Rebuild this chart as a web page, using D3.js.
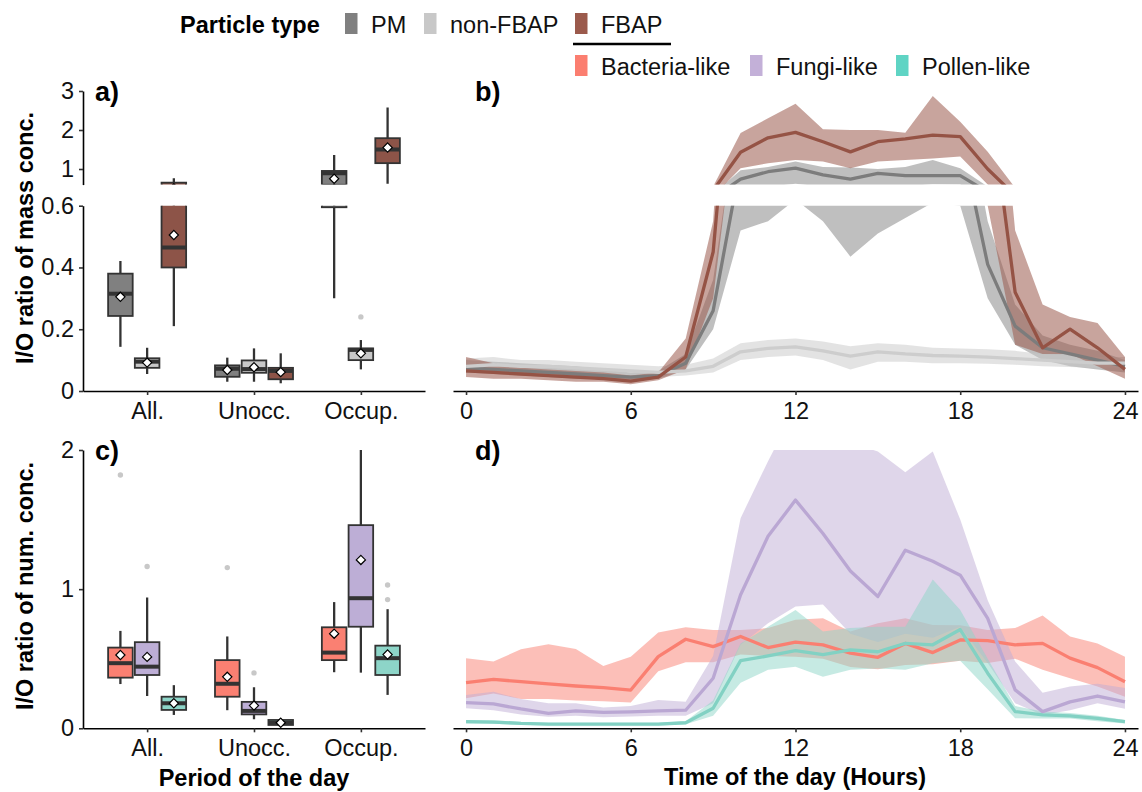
<!DOCTYPE html>
<html>
<head>
<meta charset="utf-8">
<script src="https://cdn.jsdelivr.net/npm/d3@7"></script>
<style>
  body { margin: 0; background: #fff; }
  text { font-family: "Liberation Sans", Arial, sans-serif; }
</style>
</head>
<body>
<svg id="chart" width="1142" height="792"></svg>
<script>
// ---- data ----
const periods = ["All.", "Unocc.", "Occup."];
const massTypes = ["PM", "non-FBAP", "FBAP"];
const bioTypes = ["Bacteria-like", "Fungi-like", "Pollen-like"];
const hours = [0,1,2,3,4,5,6,7,8,9,10,11,12,13,14,15,16,17,18,19,20,21,22,23,24];

// box stats per period: [whisker low, q1, median, q3, whisker high, mean]
const pmBox      = [[0.143,0.243,0.315,0.38,0.421,0.305], [0.03,0.046,0.072,0.083,0.108,0.068], [0.30,0.595,0.89,0.95,1.36,0.75]];
const nonFbapBox = [[0.055,0.075,0.095,0.106,0.14,0.092], [0.03,0.059,0.071,0.099,0.138,0.077], [0.07,0.10,0.133,0.138,0.165,0.122]];
const fbapBox    = [[0.21,0.40,0.465,0.65,0.76,0.505], [0.025,0.038,0.065,0.075,0.122,0.061], [0.62,1.15,1.5,1.79,2.58,1.55]];
const pmOut = [[], [], []];
const nonFbapOut = [[], [], [0.24]];
const fbapOut = [[], [], []];

const bactBox   = [[0.318,0.364,0.468,0.58,0.70,0.527], [0.13,0.227,0.32,0.49,0.66,0.37], [0.403,0.49,0.544,0.726,0.907,0.68]];
const fungiBox  = [[0.232,0.383,0.443,0.619,0.94,0.513], [0.065,0.10,0.125,0.19,0.295,0.163], [0.40,0.73,0.935,1.46,2.0,1.21]];
const pollenBox = [[0.096,0.132,0.18,0.227,0.31,0.18], [0.015,0.024,0.04,0.06,0.07,0.04], [0.24,0.383,0.504,0.594,0.856,0.53]];
const bactOut = [[1.82], [1.155], []];
const fungiOut = [[1.163], [0.398], []];
const pollenOut = [[], [], [0.925, 1.03]];

// hourly means and ribbons, mass concentration
const pmMean = [0.075,0.07,0.065,0.06,0.055,0.05,0.045,0.05,0.09,0.26,0.74,0.93,1.02,0.85,0.74,0.89,0.83,0.83,0.83,0.41,0.21,0.14,0.12,0.10,0.08];
const pmLo   = [0.06,0.055,0.05,0.045,0.04,0.04,0.035,0.04,0.07,0.2,0.52,0.55,0.62,0.55,0.435,0.51,0.56,0.61,0.6,0.3,0.15,0.1,0.08,0.07,0.06];
const pmHi   = [0.1,0.095,0.09,0.085,0.08,0.07,0.06,0.065,0.12,0.36,0.97,1.05,1.19,1.05,1.04,1.0,1.05,1.23,1.02,0.55,0.28,0.18,0.15,0.13,0.1];
const nonFbapMean = [0.08,0.085,0.08,0.08,0.075,0.07,0.065,0.06,0.065,0.08,0.127,0.138,0.143,0.13,0.113,0.127,0.12,0.115,0.113,0.11,0.105,0.1,0.095,0.09,0.09];
const nonFbapLo   = [0.06,0.065,0.062,0.06,0.056,0.052,0.048,0.045,0.05,0.06,0.1,0.11,0.115,0.1,0.07,0.095,0.095,0.09,0.09,0.088,0.085,0.08,0.078,0.075,0.075];
const nonFbapHi   = [0.105,0.11,0.1,0.1,0.095,0.09,0.085,0.08,0.085,0.105,0.155,0.165,0.17,0.16,0.145,0.155,0.15,0.14,0.138,0.135,0.13,0.12,0.115,0.11,0.11];
const fbapMean = [0.065,0.06,0.055,0.05,0.045,0.04,0.032,0.045,0.11,0.45,1.43,1.8,1.94,1.70,1.44,1.70,1.77,1.87,1.83,1.0,0.32,0.14,0.20,0.14,0.07];
const fbapLo   = [0.045,0.04,0.04,0.035,0.03,0.03,0.022,0.035,0.07,0.3,1.02,1.15,1.23,1.19,1.02,1.19,1.23,1.27,1.32,0.6,0.15,0.12,0.12,0.08,0.04];
const fbapHi   = [0.11,0.09,0.075,0.07,0.065,0.06,0.05,0.06,0.17,0.55,1.92,2.3,2.67,2.02,2.0,2.0,1.93,2.87,2.21,1.44,0.52,0.28,0.24,0.22,0.11];

// hourly means and ribbons, number concentration
const bactMean = [0.328,0.352,0.335,0.319,0.304,0.292,0.275,0.515,0.64,0.587,0.66,0.58,0.62,0.60,0.54,0.51,0.61,0.544,0.635,0.63,0.60,0.61,0.504,0.436,0.335];
const bactLo   = [0.216,0.25,0.21,0.21,0.2,0.195,0.185,0.41,0.475,0.475,0.53,0.52,0.515,0.5,0.44,0.425,0.455,0.46,0.486,0.47,0.5,0.42,0.36,0.3,0.227];
const bactHi   = [0.504,0.48,0.568,0.604,0.57,0.448,0.515,0.688,0.727,0.707,0.707,0.72,0.78,0.79,0.695,0.755,0.79,0.743,0.74,0.707,0.72,0.81,0.66,0.61,0.515];
const fungiMean = [0.185,0.175,0.139,0.108,0.125,0.115,0.118,0.125,0.13,0.36,0.96,1.38,1.64,1.4,1.13,0.947,1.28,1.2,1.10,0.79,0.276,0.12,0.19,0.232,0.19];
const fungiLo   = [0.144,0.13,0.1,0.083,0.09,0.08,0.085,0.09,0.09,0.18,0.6,0.755,0.875,0.89,0.68,0.62,0.68,0.65,0.73,0.47,0.18,0.096,0.13,0.18,0.14];
const fungiHi   = [0.24,0.263,0.21,0.18,0.18,0.15,0.16,0.204,0.19,0.52,1.51,1.92,2.3,2.2,2.05,1.99,1.84,1.99,1.5,0.92,0.48,0.256,0.3,0.32,0.29];
const pollenMean = [0.048,0.045,0.035,0.03,0.03,0.03,0.03,0.03,0.04,0.144,0.486,0.52,0.558,0.53,0.563,0.55,0.61,0.6,0.71,0.396,0.12,0.096,0.09,0.072,0.048];
const pollenLo   = [0.035,0.032,0.025,0.02,0.02,0.02,0.02,0.02,0.03,0.09,0.328,0.42,0.443,0.37,0.42,0.43,0.42,0.468,0.486,0.28,0.072,0.07,0.07,0.05,0.035];
const pollenHi   = [0.06,0.058,0.045,0.04,0.04,0.04,0.04,0.04,0.05,0.2,0.61,0.73,0.85,0.695,0.72,0.73,0.73,1.07,0.85,0.5,0.16,0.12,0.11,0.09,0.06];

const massTicksLo = [0, 0.2, 0.4, 0.6];
const massTicksHi = [1, 2, 3];
const numTicks = [0, 1, 2];
const hourTicks = [0, 6, 12, 18, 24];

// ---- layout ----
const svg = d3.select("#chart");
const FS = 23.5;
const ink = "#333333";

const xCat = d3.scalePoint().domain(periods).range([83, 425]).padding(0.6);
const step = xCat.step();
const boxW = 0.23 * step;
const dodgeMass = d3.scalePoint().domain(massTypes).range([-0.25 * step, 0.25 * step]);
const dodgeBio = d3.scalePoint().domain(bioTypes).range([-0.25 * step, 0.25 * step]);
const xHour = d3.scaleLinear().domain([-0.475, 24.475]).range([453, 1138]);

const yMassLo = d3.scaleLinear().domain([0, 0.6]).range([391, 205.7]);
const yMassHi = d3.scaleLinear().domain([0.6, 3]).range([184.6, 91]);
const yNum = d3.scaleLinear().domain([0, 2]).range([728.3, 450]);

const defs = svg.append("defs");
function clip(id, y0, y1) {
  defs.append("clipPath").attr("id", id)
    .append("rect").attr("x", 0).attr("y", y0).attr("width", 1142).attr("height", y1 - y0);
}
clip("clipLo", 205.7, 400);
clip("clipHi", 60, 184.6);
clip("clipNum", 450, 740);

const massFill = { "PM": "#808080", "non-FBAP": "#c8c8c8", "FBAP": "#8d5448" };
const bioFill = { "Bacteria-like": "#fa8072", "Fungi-like": "#bdaed6", "Pollen-like": "#8dd5c8" };

function diamond(cx, cy, r) {
  return "M" + cx + "," + (cy - r) + "L" + (cx + r) + "," + cy + "L" + cx + "," + (cy + r) + "L" + (cx - r) + "," + cy + "Z";
}

function drawBoxes(g, y, types, dodge, fills, stats, outs) {
  const boxes = [];
  types.forEach((t, ti) => periods.forEach((p, pi) => {
    boxes.push({ type: t, period: p, s: stats[ti][pi], out: outs[ti][pi] });
  }));
  const cx = d => xCat(d.period) + dodge(d.type);

  const b = g.selectAll(".box").data(boxes).join("g").attr("class", "box");
  b.append("line")
    .attr("x1", cx).attr("x2", cx)
    .attr("y1", d => y(d.s[0])).attr("y2", d => y(d.s[4]))
    .attr("stroke", ink).attr("stroke-width", 2.3);
  b.append("rect")
    .attr("x", d => cx(d) - boxW / 2).attr("width", boxW)
    .attr("y", d => y(d.s[3])).attr("height", d => y(d.s[1]) - y(d.s[3]))
    .attr("fill", d => fills[d.type])
    .attr("stroke", ink).attr("stroke-width", 1.8);
  b.append("line")
    .attr("x1", d => cx(d) - boxW / 2).attr("x2", d => cx(d) + boxW / 2)
    .attr("y1", d => y(d.s[2])).attr("y2", d => y(d.s[2]))
    .attr("stroke", ink).attr("stroke-width", 4);
  b.selectAll("circle").data(d => d.out.map(v => ({ x: cx(d), v: v }))).join("circle")
    .attr("cx", o => o.x).attr("cy", o => y(o.v)).attr("r", 2.7)
    .attr("fill", "#c8c8c8");
  b.append("path")
    .attr("d", d => diamond(cx(d), y(d.s[5]), 4.6))
    .attr("fill", "#fff").attr("stroke", "#000").attr("stroke-width", 1.2);
}

function drawSeries(g, y, series) {
  series.forEach(s => {
    const pts = hours.map((h, i) => ({ h: h, m: s.mean[i], lo: s.lo[i], hi: s.hi[i] }));
    g.append("path").datum(pts)
      .attr("d", d3.area().x(d => xHour(d.h)).y0(d => y(d.lo)).y1(d => y(d.hi)))
      .attr("fill", s.color).attr("fill-opacity", s.alpha);
  });
  series.forEach(s => {
    const pts = hours.map((h, i) => ({ h: h, m: s.mean[i] }));
    g.append("path").datum(pts)
      .attr("d", d3.line().x(d => xHour(d.h)).y(d => y(d.m)))
      .attr("fill", "none").attr("stroke", s.line).attr("stroke-width", 3.3)
      .attr("stroke-linejoin", "round");
  });
}

const massSeries = [
  { mean: pmMean, lo: pmLo, hi: pmHi, color: "#808080", alpha: 0.5, line: "#7c7c7c" },
  { mean: nonFbapMean, lo: nonFbapLo, hi: nonFbapHi, color: "#c8c8c8", alpha: 0.5, line: "#cdcdcd" },
  { mean: fbapMean, lo: fbapLo, hi: fbapHi, color: "#9b5a4c", alpha: 0.55, line: "#955345" }
];
const bioSeries = [
  { mean: bactMean, lo: bactLo, hi: bactHi, color: "#fa8072", alpha: 0.5, line: "#fa7f71" },
  { mean: fungiMean, lo: fungiLo, hi: fungiHi, color: "#bfaed6", alpha: 0.5, line: "#baa7d3" },
  { mean: pollenMean, lo: pollenLo, hi: pollenHi, color: "#8dd5c8", alpha: 0.5, line: "#82d1c3" }
];

// panel a (broken y axis) and b
[["clipLo", yMassLo], ["clipHi", yMassHi]].forEach(([id, y]) => {
  const ga = svg.append("g").attr("clip-path", "url(#" + id + ")");
  drawBoxes(ga, y, massTypes, dodgeMass, massFill,
    [pmBox, nonFbapBox, fbapBox], [pmOut, nonFbapOut, fbapOut]);
  const gb = svg.append("g").attr("clip-path", "url(#" + id + ")");
  drawSeries(gb, y, massSeries);
});

// panel c and d
const gc = svg.append("g").attr("clip-path", "url(#clipNum)");
drawBoxes(gc, yNum, bioTypes, dodgeBio, bioFill,
  [bactBox, fungiBox, pollenBox], [bactOut, fungiOut, pollenOut]);
const gd = svg.append("g").attr("clip-path", "url(#clipNum)");
drawSeries(gd, yNum, bioSeries);

// ---- axes ----
function styleAxis(g) {
  g.attr("font-size", FS).attr("font-family", "Liberation Sans, Arial, sans-serif");
  g.select(".domain").attr("stroke", "#000").attr("stroke-width", 1.6);
  g.selectAll(".tick line").attr("stroke", ink).attr("stroke-width", 1.6);
  g.selectAll(".tick text").attr("fill", "#111");
}
const fmt = d => d === 0 ? "0" : String(d);

[[yMassLo, massTicksLo], [yMassHi, massTicksHi], [yNum, numTicks]].forEach(([y, tv]) => {
  svg.append("g").attr("transform", "translate(83,0)")
    .call(d3.axisLeft(y).tickValues(tv).tickFormat(fmt).tickSize(4).tickSizeOuter(0).tickPadding(5))
    .call(styleAxis);
});
[391, 728.3].forEach(y0 => {
  svg.append("g").attr("transform", "translate(0," + y0 + ")")
    .call(d3.axisBottom(xCat).tickSize(4).tickSizeOuter(0).tickPadding(7))
    .call(styleAxis);
  svg.append("g").attr("transform", "translate(0," + y0 + ")")
    .call(d3.axisBottom(xHour).tickValues(hourTicks).tickFormat(fmt).tickSize(4).tickSizeOuter(0).tickPadding(7))
    .call(styleAxis);
});

// axis titles
svg.append("text").attr("transform", "translate(33,238) rotate(-90)")
  .attr("text-anchor", "middle").attr("font-weight", "bold").attr("font-size", FS)
  .text("I/O ratio of mass conc.");
svg.append("text").attr("transform", "translate(33,586) rotate(-90)")
  .attr("text-anchor", "middle").attr("font-weight", "bold").attr("font-size", FS)
  .text("I/O ratio of num. conc.");
svg.append("text").attr("x", 254).attr("y", 786)
  .attr("text-anchor", "middle").attr("font-weight", "bold").attr("font-size", FS)
  .text("Period of the day");
svg.append("text").attr("x", 795).attr("y", 785)
  .attr("text-anchor", "middle").attr("font-weight", "bold").attr("font-size", FS)
  .text("Time of the day (Hours)");

// panel tags
[["a)", 95, 101], ["b)", 475, 101], ["c)", 95, 460], ["d)", 475, 460]].forEach(([t, x, y]) => {
  svg.append("text").attr("x", x).attr("y", y)
    .attr("font-weight", "bold").attr("font-size", 27).text(t);
});

// ---- legend ----
const leg = svg.append("g");
leg.append("text").attr("x", 180).attr("y", 33)
  .attr("font-weight", "bold").attr("font-size", FS).text("Particle type");
const legendItems = [
  { label: "PM", color: "#808080", x: 345, y: 13 },
  { label: "non-FBAP", color: "#c8c8c8", x: 424, y: 13 },
  { label: "FBAP", color: "#9b5a4c", x: 575, y: 13 },
  { label: "Bacteria-like", color: "#fb7e70", x: 575, y: 55 },
  { label: "Fungi-like", color: "#c3b0d8", x: 750, y: 55 },
  { label: "Pollen-like", color: "#5fd4c4", x: 896, y: 55 }
];
legendItems.forEach(d => {
  leg.append("rect").attr("x", d.x).attr("y", d.y).attr("width", 12.5).attr("height", 21)
    .attr("fill", d.color);
  leg.append("text").attr("x", d.x + 26).attr("y", d.y + 19.5)
    .attr("font-size", FS).attr("fill", "#111").text(d.label);
});
leg.append("line").attr("x1", 573).attr("x2", 671).attr("y1", 44).attr("y2", 44)
  .attr("stroke", "#000").attr("stroke-width", 2.6);
</script>
</body>
</html>
